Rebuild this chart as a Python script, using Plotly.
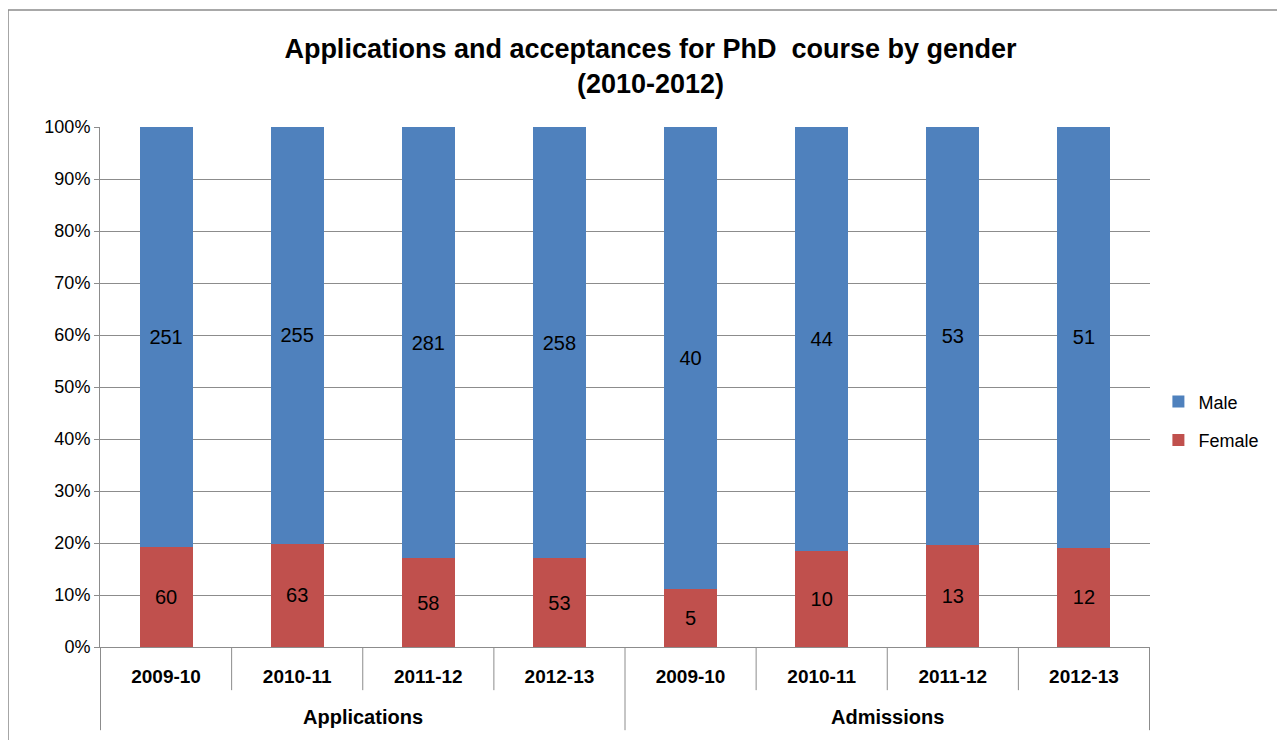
import plotly.graph_objects as go

# Dados
grupos = ['Applications'] * 4 + ['Admissions'] * 4
anos = ['2009-10', '2010-11', '2011-12', '2012-13'] * 2
female = [60, 63, 58, 53, 5, 10, 13, 12]
male = [251, 255, 281, 258, 40, 44, 53, 51]

# categorias únicas para o eixo x (texto do tick = ano)
cats = [g + ' ' + a for g, a in zip(grupos, anos)]

cinza = '#8C8C8C'
fonte = 'Liberation Sans, Arial'

fig = go.Figure()

fig.add_trace(go.Bar(
    x=cats, y=female, name='Female', legendgroup='f', legendrank=2,
    marker=dict(color='#C0504D', line=dict(width=0)),
    text=[str(v) for v in female], textposition='inside',
    insidetextanchor='middle', textangle=0,
    textfont=dict(family=fonte, size=20, color='#000000'),
))
fig.add_trace(go.Bar(
    x=cats, y=male, name='Male', legendgroup='m', legendrank=1,
    marker=dict(color='#4F81BD', line=dict(width=0)),
    text=[str(v) for v in male], textposition='inside',
    insidetextanchor='middle', textangle=0,
    textfont=dict(family=fonte, size=20, color='#000000'),
))

# linhas de separação abaixo do eixo (limites das categorias e dos grupos)
shapes = []
for i in range(len(cats) + 1):
    inicio_grupo = i == 0 or i == len(cats) or grupos[i] != grupos[i - 1]
    shapes.append(dict(
        type='line', xref='x', yref='paper',
        x0=i - 0.5, x1=i - 0.5, y0=0, y1=-0.16 if inicio_grupo else -0.083,
        line=dict(color=cinza, width=1),
    ))

# borda do gráfico (topo e esquerda)
shapes.append(dict(
    type='rect', xref='paper', yref='paper',
    x0=-0.0876, x1=1.3, y0=-0.4, y1=1.225,
    line=dict(color=cinza, width=1.5), fillcolor='rgba(0,0,0,0)', layer='below',
))

# rótulos dos grupos
annotations = []
for g in dict.fromkeys(grupos):
    idx = [i for i, v in enumerate(grupos) if v == g]
    annotations.append(dict(
        x=(idx[0] + idx[-1]) / 2, xref='x', y=-0.135, yref='paper',
        text='<b>' + g + '</b>', showarrow=False, yanchor='middle',
        font=dict(family=fonte, size=20, color='#000000'),
    ))

fig.update_layout(
    width=1285, height=740,
    barmode='stack', barnorm='percent', bargap=0.595,
    plot_bgcolor='white', paper_bgcolor='white',
    margin=dict(l=92, r=143, t=119, b=101),
    font=dict(family=fonte, color='#000000'),
    title=dict(
        text='<b>Applications and acceptances for PhD  course by gender<br>(2010-2012)</b>',
        x=0.5, xref='container', xanchor='center', y=0.932, yanchor='middle',
        font=dict(size=27, color='#000000'),
    ),
    legend=dict(
        x=1.008, y=0.435, xanchor='left', yanchor='middle',
        traceorder='grouped', font=dict(size=18),
        itemwidth=30, tracegroupgap=12,
    ),
    shapes=shapes,
    annotations=annotations,
)

fig.update_yaxes(
    range=[0, 100], dtick=10, ticksuffix='%',
    showgrid=True, gridcolor=cinza, gridwidth=1,
    showline=True, linecolor=cinza, linewidth=1,
    ticks='outside', ticklen=5, tickcolor=cinza,
    tickfont=dict(size=18), zeroline=False,
)
fig.update_xaxes(
    type='category', tickvals=cats, ticktext=anos,
    showline=True, linecolor=cinza, linewidth=1,
    ticks='', ticklabelstandoff=12,
    tickfont=dict(size=19, weight='bold'),
)

fig.write_html('out.html')
